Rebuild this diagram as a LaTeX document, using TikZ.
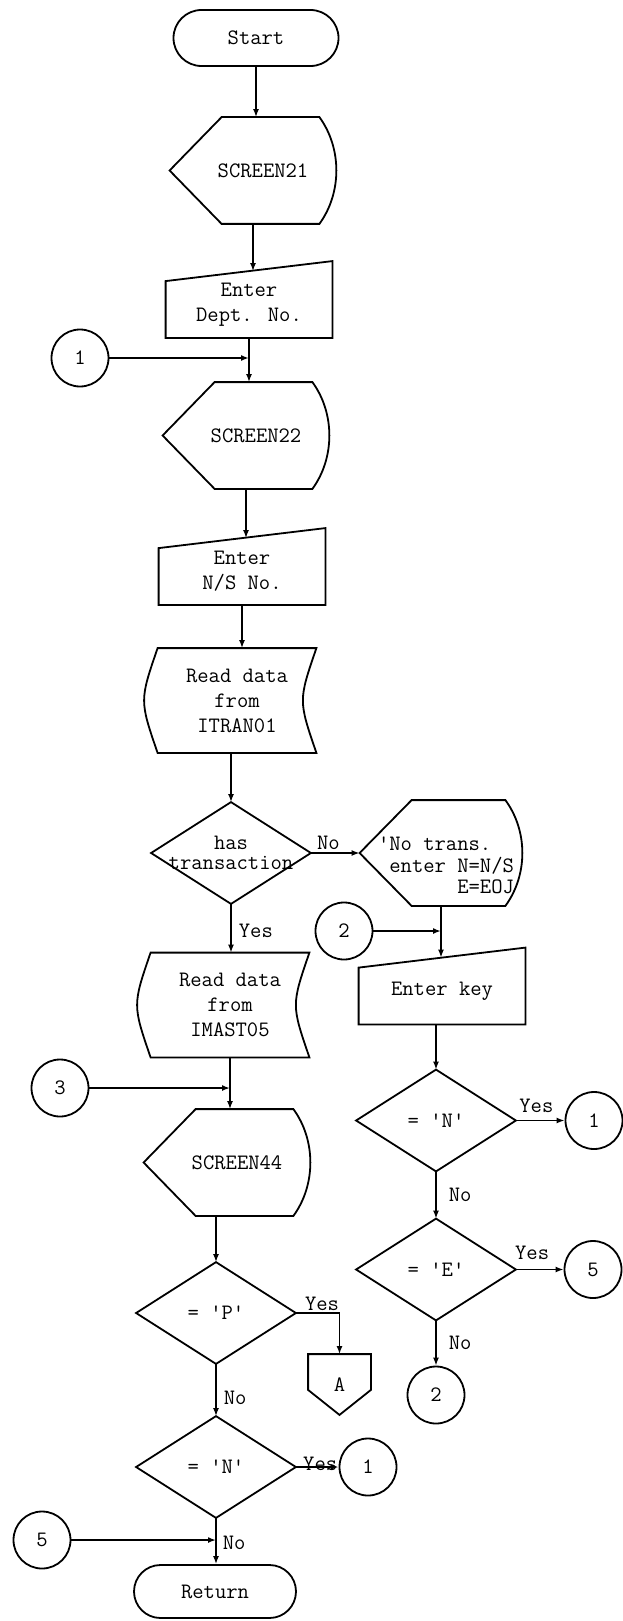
\documentclass[tikz,border=0pt]{standalone}
\usetikzlibrary{arrows.meta,shapes.misc}

\begin{document}
\begin{tikzpicture}[x=1pt, y=-1pt, line width=1.8pt,
    font=\fontsize{22}{25}\selectfont\ttfamily,
    >={Latex[length=8pt,width=6pt]},
    termbox/.style={rounded rectangle, draw, minimum width=165pt, minimum height=56pt, inner sep=0pt},
    conn/.style={circle, draw, minimum size=57pt, inner sep=0pt},
    decbox/.style={minimum width=158pt, minimum height=100pt, inner sep=0pt, align=center,
      append after command={\pgfextra{\draw (\tikzlastnode.north) -- (\tikzlastnode.east)
        -- (\tikzlastnode.south) -- (\tikzlastnode.west) -- cycle;}}},
    dispbox/.style={minimum width=165pt, minimum height=105pt, inner sep=0pt,
      append after command={\pgfextra{\draw (\tikzlastnode.west)
        -- ([xshift=52pt]\tikzlastnode.north west) -- ([xshift=-17pt]\tikzlastnode.north east)
        .. controls ([xshift=5.6pt,yshift=-31pt]\tikzlastnode.north east)
        and ([xshift=5.6pt,yshift=31pt]\tikzlastnode.south east)
        .. ([xshift=-17pt]\tikzlastnode.south east) -- ([xshift=52pt]\tikzlastnode.south west) -- cycle;}}},
    disptext/.style={execute at begin node={\hspace*{20pt}}},
    inbox/.style={minimum width=165pt, minimum height=65pt, inner sep=0pt, align=center,
      append after command={\pgfextra{\draw (\tikzlastnode.south west)
        -- ([yshift=-10pt]\tikzlastnode.north west) -- ([yshift=10pt]\tikzlastnode.north east)
        -- (\tikzlastnode.south east) -- cycle;}}},
    databox/.style={minimum width=157pt, minimum height=103pt, inner sep=0pt, align=center,
      append after command={\pgfextra{\draw (\tikzlastnode.north west) -- (\tikzlastnode.north east)
        .. controls ([xshift=-18pt]\tikzlastnode.east) .. (\tikzlastnode.south east)
        -- (\tikzlastnode.south west)
        .. controls ([xshift=-18pt]\tikzlastnode.west) .. (\tikzlastnode.north west) -- cycle;}}},
    pagebox/.style={minimum width=61pt, minimum height=59pt, inner sep=0pt,
      append after command={\pgfextra{\draw (\tikzlastnode.north west) -- (\tikzlastnode.north east)
        -- ([yshift=25pt]\tikzlastnode.south east) -- (\tikzlastnode.south)
        -- ([yshift=25pt]\tikzlastnode.south west) -- cycle;}}},
    lbl/.style={inner sep=2pt}
    ]
    \useasboundingbox (0,0) rectangle (623,1621);

    % main column
    \node[termbox] (start) at (256,38) {Start};
    \node[dispbox, disptext] (scr21) at (253,170.5) {SCREEN21};
    \node[inbox] (dept) at (249,304.5) {Enter\\Dept. No.};
    \node[conn] (c1a) at (80,358) {1};
    \node[dispbox, disptext] (scr22) at (246,435.5) {SCREEN22};
    \node[inbox] (ns) at (242,571.5) {Enter\\N/S No.};
    \node[databox] (rd1) at (237,700.5) {Read data\\from\\ITRAN01};
    \node[decbox, font=\fontsize{22}{19.5}\selectfont\ttfamily] (has) at (231,853) {has\\transaction};
    \node[databox] (rd2) at (230,1005) {Read data\\from\\IMAST05};
    \node[conn] (c3) at (60,1088) {3};
    \node[dispbox, disptext] (scr44) at (227,1162.5) {SCREEN44};
    \node[decbox] (dp) at (216,1313) {= \textquotesingle P\textquotesingle};
    \node[pagebox] (offA) at (339.5,1384.5) {A};
    \node[decbox] (dn2) at (216,1467) {= \textquotesingle N\textquotesingle};
    \node[conn] (c1c) at (368,1467) {1};
    \node[conn] (c5b) at (42,1540) {5};
    \node[termbox, minimum width=162pt, minimum height=53pt] (ret) at (215,1591.5) {Return};

    % right column
    \node[dispbox, minimum width=161pt, minimum height=104pt] (notr) at (441,853)
      {\raisebox{-20pt}[0pt][0pt]{\hspace*{10pt}\fontsize{22}{21}\selectfont
        \begin{tabular}{@{}l@{}}
          \textquotesingle No trans.\\
          \phantom{x}enter N=N/S\\
          \phantom{xxxxxxx}E=EOJ
        \end{tabular}}};
    \node[conn] (c2a) at (344,931) {2};
    \node[inbox] (key) at (442,991) {Enter key};
    \node[decbox] (dn1) at (436,1120.5) {= \textquotesingle N\textquotesingle};
    \node[conn] (c1b) at (594,1120.5) {1};
    \node[decbox] (de) at (436,1269.5) {= \textquotesingle E\textquotesingle};
    \node[conn] (c5a) at (593,1269.5) {5};
    \node[conn] (c2b) at (436,1395) {2};

    \coordinate (j1) at (dept |- c1a);
    \coordinate (j3) at (rd2 |- c3);
    \coordinate (j5) at (dn2 |- c5b);
    \coordinate (j2) at (notr |- c2a);

    \draw[->] (start) -- (start |- scr21.north);
    \draw[->] (scr21) -- (scr21 |- dept.north);
    \draw[->] (dept) -- (dept |- scr22.north);
    \draw[->] (c1a) -- (j1);
    \draw[->] (scr22) -- (scr22 |- ns.north);
    \draw[->] (ns) -- (ns |- rd1.north);
    \draw[->] (rd1.south -| has) -- (has);
    \draw[->] (has) -- (notr) node[lbl, above, pos=0.36] (lno1) {No};
    \draw[->] (has) -- (has |- rd2.north) node[lbl, right=5pt, pos=0.55] (lyes1) {Yes};
    \draw[->] (rd2) -- (rd2 |- scr44.north);
    \draw[->] (c3) -- (j3);
    \draw[->] (scr44.south -| dp) -- (dp);
    \draw[->] (dp) -| (offA) node[lbl, above, inner sep=1pt, pos=0.3] (lyes2) {Yes};
    \draw[->] (dp) -- (dn2) node[lbl, right=5pt, pos=0.65] (lno2) {No};
    \draw[->] (dn2) -- (c1c) node[anchor=base, yshift=-3pt, pos=0.57] (lyes3) {Yes};
    \draw[->] (dn2) -- (dn2 |- ret.north) node[lbl, right=4pt, pos=0.55] (lno3) {No};
    \draw[->] (c5b) -- (j5);

    \draw[->] (notr) -- (notr |- key.north);
    \draw[->] (c2a) -- (j2);
    \draw[->] (key.south -| dn1) -- (dn1);
    \draw[->] (dn1) -- (c1b) node[lbl, above=5pt, pos=0.42] (lyes4) {Yes};
    \draw[->] (dn1) -- (de) node[lbl, right=10pt, pos=0.5] (lno4) {No};
    \draw[->] (de) -- (c5a) node[lbl, above=7pt, pos=0.34] (lyes5) {Yes};
    \draw[->] (de) -- (c2b) node[lbl, right=10pt, pos=0.5] (lno5) {No};
\end{tikzpicture}
\end{document}
